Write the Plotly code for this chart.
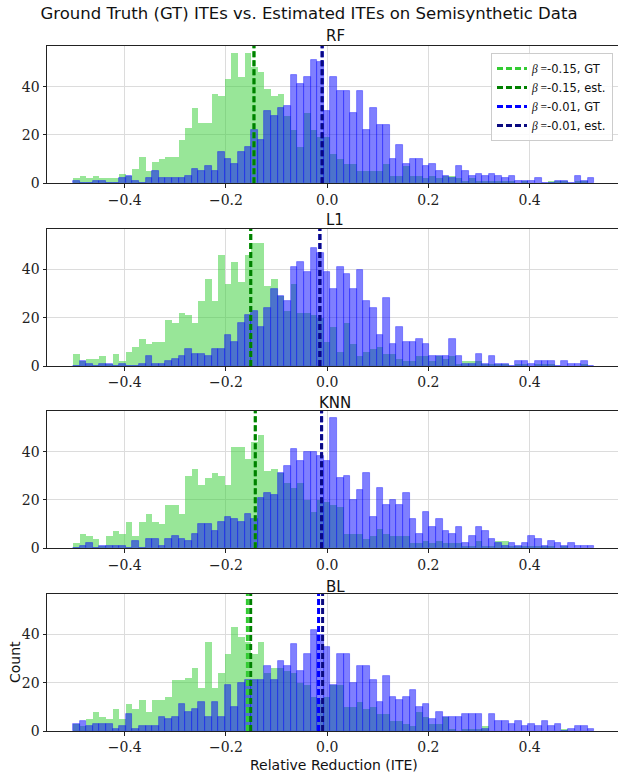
import numpy as np
import plotly.graph_objects as go

# ---------------- data ----------------
bin_start = -0.502
bin_width = 0.01304
n_bins = 79

panel_titles = ["RF", "L1", "KNN", "BL"]

rf_green = [2,3,2,3,2,2,2,4,3,6,11,5,9,10,11,11,18,23,31,25,25,37,36,43,54,44,54,48,46,39,36,37,28,
            22,15,29,22,19,19,12,10,8,8,5,5,5,5,8,3,3,7,3,3,2,3,2,3,3,2,1,2,1,1,1,1,1,1,0,1,0,0,0,1,1,1,0,1,1,0]
rf_blue = [1,0,0,1,1,0,0,2,3,1,0,2,5,2,2,2,2,3,6,5,7,5,13,10,8,13,15,22,18,30,28,31,32,
           45,41,44,51,50,30,44,38,38,29,38,22,31,24,24,10,16,8,10,10,7,8,5,3,2,7,5,3,4,3,4,3,2,3,1,1,1,2,0,0,1,1,0,3,1,2]

l1_green = [5,2,3,3,4,1,5,2,6,8,11,9,10,10,19,18,22,21,18,27,36,27,46,34,43,35,46,51,51,33,36,29,23,
            34,22,22,21,20,10,16,6,18,9,4,6,7,8,5,5,3,2,2,4,4,2,4,3,4,1,2,2,2,1,1,1,1,0,1,1,0,1,1,1,0,0,0,0,1,0]
l1_blue = [0,2,1,0,1,1,0,1,0,0,1,4,1,1,2,3,4,7,5,5,4,7,7,13,10,18,21,23,16,24,32,29,27,41,43,39,49,47,
           39,32,41,38,32,40,27,24,13,28,9,16,10,10,11,9,4,4,4,11,4,1,1,5,1,4,1,1,0,2,2,1,2,2,2,0,2,1,1,2,0]

knn_green = [2,6,5,4,1,5,7,6,11,5,11,14,11,10,18,18,14,30,33,26,29,31,30,26,42,42,37,44,47,32,33,31,27,25,27,20,15,20,
             19,18,17,6,6,6,4,5,8,6,5,5,5,2,2,3,2,3,2,2,2,1,1,3,1,1,3,3,1,1,1,1,1,1,1,0,1,0,0,0,0]
knn_blue = [0,1,2,0,1,1,1,1,0,3,0,4,4,1,4,5,4,3,6,10,10,7,11,13,12,11,14,12,21,23,22,31,34,41,36,40,40,38,
            36,54,29,30,20,24,31,13,25,18,20,18,23,12,6,15,9,12,7,6,9,2,5,9,7,4,2,1,2,1,2,5,4,1,3,2,1,2,1,1,1]

bl_green = [3,2,5,8,6,5,9,5,11,9,13,8,13,13,14,21,21,22,26,18,37,18,24,32,43,39,37,32,37,24,26,26,25,24,20,19,14,13,
            14,19,19,10,10,12,9,10,7,7,4,4,3,2,8,6,3,3,6,1,0,1,1,1,2,0,0,0,0,0,0,0,0,0,0,0,1,0,0,0,0]
bl_blue = [3,4,2,3,3,3,1,2,7,1,2,2,2,6,5,6,11,8,9,12,6,12,6,19,10,20,21,21,21,27,21,29,27,36,25,32,42,40,
           35,19,32,32,20,27,27,21,12,23,14,13,14,17,10,11,5,8,6,6,6,7,7,7,1,7,4,4,3,4,2,3,2,4,2,3,0,1,2,2,1]

# vertical mean lines: [beta=-0.15 GT, beta=-0.15 est., beta=-0.01 GT, beta=-0.01 est.]
rf_lines = [-0.1446, -0.1446, -0.0099, -0.0099]
l1_lines = [-0.1510, -0.1510, -0.0144, -0.0144]
knn_lines = [-0.1420, -0.1420, -0.0110, -0.0110]
bl_lines = [-0.1576, -0.1511, -0.0170, -0.0090]

line_names = ['<span style="font-family:\'Liberation Serif\', serif"><i>β</i> =</span>-0.15, GT',
              '<span style="font-family:\'Liberation Serif\', serif"><i>β</i> =</span>-0.15, est.',
              '<span style="font-family:\'Liberation Serif\', serif"><i>β</i> =</span>-0.01, GT',
              '<span style="font-family:\'Liberation Serif\', serif"><i>β</i> =</span>-0.01, est.']
x_ticks = [-0.4, -0.2, 0.0, 0.2, 0.4]
y_ticks = [0, 20, 40]

# ---------------- styling ----------------
green_fill = "rgba(50,205,50,0.5)"
blue_fill = "rgba(0,0,255,0.5)"
line_colors = ["#33cc33", "#008000", "#0000ff", "#0a0a80"]
serif = "DejaVu Serif"
sans = "DejaVu Sans"
Y_MAX = 56.8

edges = bin_start + bin_width * np.arange(n_bins + 1)
centers = (edges[:-1] + edges[1:]) / 2

greens = [rf_green, l1_green, knn_green, bl_green]
blues = [rf_blue, l1_blue, knn_blue, bl_blue]
vlines = [rf_lines, l1_lines, knn_lines, bl_lines]

H = 772
W = 618
top_px = [46, 229, 411, 594]
bot_px = [183.3, 366, 548.3, 731]
m_top, m_bot = 46, 41
plot_h = H - m_top - m_bot


def py(px):
    return (H - m_bot - px) / plot_h


tick_font = dict(family=serif, size=14, color="#222")

fig = go.Figure()
layout = dict()
for k in range(4):
    sfx = "" if k == 0 else str(k + 1)
    xa, ya = "x" + sfx, "y" + sfx
    fig.add_trace(go.Bar(x=centers, y=greens[k], width=bin_width, xaxis=xa, yaxis=ya,
                         marker=dict(color=green_fill, line=dict(width=0)), showlegend=False,
                         hoverinfo="skip"))
    fig.add_trace(go.Bar(x=centers, y=blues[k], width=bin_width, xaxis=xa, yaxis=ya,
                         marker=dict(color=blue_fill, line=dict(width=0.8, color="rgba(0,0,255,0.45)")),
                         showlegend=False, hoverinfo="skip"))
    for j in range(4):
        v = vlines[k][j]
        fig.add_trace(go.Scatter(x=[v, v], y=[0, Y_MAX], mode="lines", xaxis=xa, yaxis=ya,
                                 line=dict(color=line_colors[j], width=3, dash="6px,3px"),
                                 name=line_names[j], showlegend=(k == 0), hoverinfo="skip"))
    layout["xaxis" + sfx] = dict(domain=[0, 1], anchor=ya, range=[-0.5535, 0.5746],
                                 tickvals=x_ticks, tickformat=".1f",
                                 showgrid=True, gridcolor="#dcdcdc", gridwidth=1,
                                 showline=True, linecolor="#222", linewidth=1, mirror=True,
                                 ticks="outside", ticklen=3.5, tickcolor="#222",
                                 tickfont=tick_font,
                                 zeroline=False, fixedrange=True)
    layout["yaxis" + sfx] = dict(domain=[py(bot_px[k]), py(top_px[k])], anchor=xa, range=[0, Y_MAX],
                                 tickvals=y_ticks, showgrid=True, gridcolor="#dcdcdc", gridwidth=1,
                                 showline=True, linecolor="#222", linewidth=1, mirror=False,
                                 ticks="outside", ticklen=3.5, tickcolor="#222",
                                 tickfont=tick_font,
                                 zeroline=False, fixedrange=True)

annotations = []
title_px = [36, 220, 403, 587]
for k in range(4):
    annotations.append(dict(text=panel_titles[k], x=(335 - 47) / (W - 47), y=py(title_px[k]),
                            xref="paper", yref="paper", showarrow=False, xanchor="center",
                            yanchor="middle", font=dict(family=sans, size=15, color="#111")))
annotations.append(dict(text="Count", x=(15 - 47) / (W - 47), y=py(662), xref="paper", yref="paper",
                        showarrow=False, textangle=-90, xanchor="center", yanchor="middle",
                        font=dict(family=sans, size=14, color="#111")))
annotations.append(dict(text="Relative Reduction (ITE)", x=(334 - 47) / (W - 47), y=py(765),
                        xref="paper", yref="paper", showarrow=False, xanchor="center", yanchor="middle",
                        font=dict(family=sans, size=14, color="#111")))

fig.update_layout(
    **layout,
    width=W, height=H,
    margin=dict(l=47, r=0, t=m_top, b=m_bot, autoexpand=False),
    barmode="overlay", bargap=0,
    plot_bgcolor="white", paper_bgcolor="white",
    title=dict(text="Ground Truth (GT) ITEs vs. Estimated ITEs on Semisynthetic Data",
               x=0.5, xref="container", xanchor="center", y=1 - 13 / H, yref="container",
               yanchor="middle", font=dict(family=sans, size=16.5, color="#111")),
    annotations=annotations,
    legend=dict(x=(613 - 47) / (W - 47), xanchor="right", y=py(53), yanchor="top",
                bgcolor="rgba(255,255,255,0.85)", bordercolor="#cccccc", borderwidth=1,
                font=dict(family=sans, size=11.5, color="#111"), tracegroupgap=0),
    showlegend=True,
)

fig.write_html("out.html")
